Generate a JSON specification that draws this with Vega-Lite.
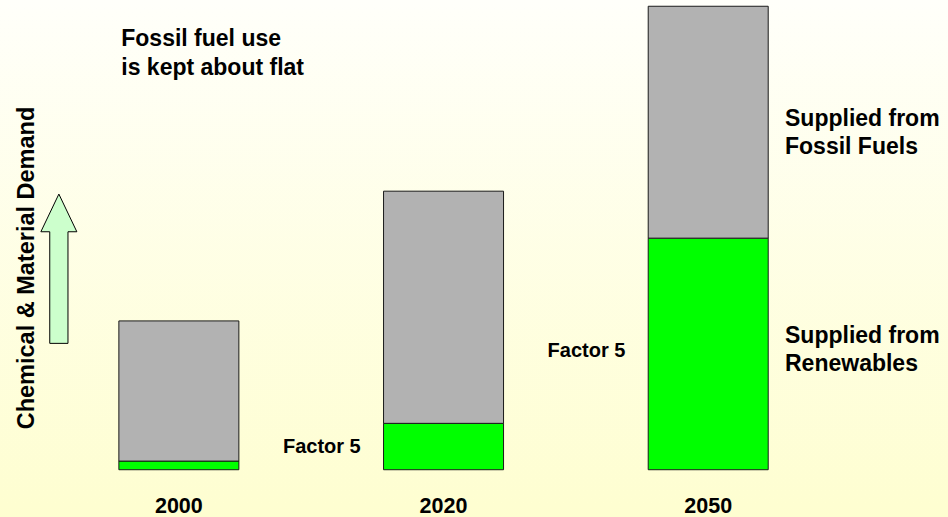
{
  "$schema": "https://vega.github.io/schema/vega-lite/v6.json",
  "width": 948,
  "height": 517,
  "autosize": {"type": "none"},
  "padding": 0,
  "background": "#fefed2",
  "config": {
    "view": {
      "stroke": null,
      "fill": {
        "gradient": "linear",
        "x1": 0, "y1": 0, "x2": 0, "y2": 1,
        "stops": [
          {"offset": 0, "color": "#fffffa"},
          {"offset": 1, "color": "#fefed0"}
        ]
      }
    },
    "text": {"font": "Liberation Sans", "fontWeight": "bold", "color": "#000000"},
    "axis": {
      "domain": false,
      "ticks": false,
      "grid": false,
      "labelFont": "Liberation Sans",
      "labelFontWeight": "bold",
      "labelColor": "#000000",
      "titleFont": "Liberation Sans",
      "titleFontWeight": "bold",
      "titleColor": "#000000"
    },
    "axisX": {
      "labelAngle": 0,
      "labelFontSize": 21.5,
      "labelBaseline": "alphabetic",
      "labelPadding": 43,
      "offset": -47.3
    },
    "axisY": {
      "labels": false,
      "titleFontSize": 23.5,
      "titleAngle": 270,
      "titleAlign": "center",
      "titleBaseline": "alphabetic",
      "titleX": 33,
      "titleY": 267.5
    }
  },
  "layer": [
    {
      "data": {
        "values": [
          {"year": "2000", "source": "Renewables", "demand": 5.8},
          {"year": "2000", "source": "Fossil Fuels", "demand": 94.0},
          {"year": "2020", "source": "Renewables", "demand": 31.1},
          {"year": "2020", "source": "Fossil Fuels", "demand": 155.7},
          {"year": "2050", "source": "Renewables", "demand": 155.3},
          {"year": "2050", "source": "Fossil Fuels", "demand": 155.5}
        ]
      },
      "mark": {"type": "bar", "stroke": "#1a1a1a", "strokeWidth": 1},
      "encoding": {
        "x": {
          "field": "year",
          "type": "ordinal",
          "scale": {"paddingInner": 0.5466, "paddingOuter": 0.5642, "align": 0.398},
          "axis": {"title": null}
        },
        "y": {
          "field": "demand",
          "type": "quantitative",
          "stack": "zero",
          "scale": {"domain": [-31.7, 315], "nice": false, "zero": false},
          "axis": {"title": "Chemical & Material Demand"}
        },
        "color": {
          "field": "source",
          "type": "nominal",
          "scale": {"domain": ["Renewables", "Fossil Fuels"], "range": ["#00ff00", "#b2b2b2"]},
          "legend": null
        },
        "order": {"field": "source", "sort": "descending"}
      }
    },
    {
      "data": {
        "values": [
          {"year": "2000", "level": 284.4, "label": ["Fossil fuel use", "is kept about flat"]}
        ]
      },
      "mark": {"type": "text", "align": "left", "baseline": "alphabetic", "fontSize": 23, "lineHeight": 29.3},
      "encoding": {
        "x": {"field": "year", "type": "ordinal", "bandPosition": 0.02},
        "y": {"field": "level", "type": "quantitative"},
        "text": {"field": "label"}
      }
    },
    {
      "data": {
        "values": [
          {"year": "2020", "level": 11.4, "label": "Factor 5"},
          {"year": "2050", "level": 75.8, "label": "Factor 5"}
        ]
      },
      "mark": {"type": "text", "align": "right", "baseline": "alphabetic", "fontSize": 20},
      "encoding": {
        "x": {"field": "year", "type": "ordinal", "bandPosition": -0.19},
        "y": {"field": "level", "type": "quantitative"},
        "text": {"field": "label"}
      }
    },
    {
      "data": {
        "values": [
          {"year": "2050", "level": 230.5, "label": ["Supplied from", "Fossil Fuels"]},
          {"year": "2050", "level": 84.8, "label": ["Supplied from", "Renewables"]}
        ]
      },
      "mark": {"type": "text", "align": "left", "baseline": "alphabetic", "fontSize": 23, "lineHeight": 28.2},
      "encoding": {
        "x": {"field": "year", "type": "ordinal", "bandPosition": 1.14},
        "y": {"field": "level", "type": "quantitative"},
        "text": {"field": "label"}
      }
    },
    {
      "data": {"values": [{"year": "2000", "level": 134.8}]},
      "mark": {
        "type": "point",
        "shape": "M0,-1L0.241,-0.495L0.122,-0.495L0.122,1L-0.122,1L-0.122,-0.495L-0.241,-0.495Z",
        "size": 22290,
        "filled": true,
        "fill": "#ccffcc",
        "stroke": "#000000",
        "strokeWidth": 1,
        "opacity": 1
      },
      "encoding": {
        "x": {"field": "year", "type": "ordinal", "bandPosition": -0.5},
        "y": {"field": "level", "type": "quantitative"}
      }
    }
  ]
}
